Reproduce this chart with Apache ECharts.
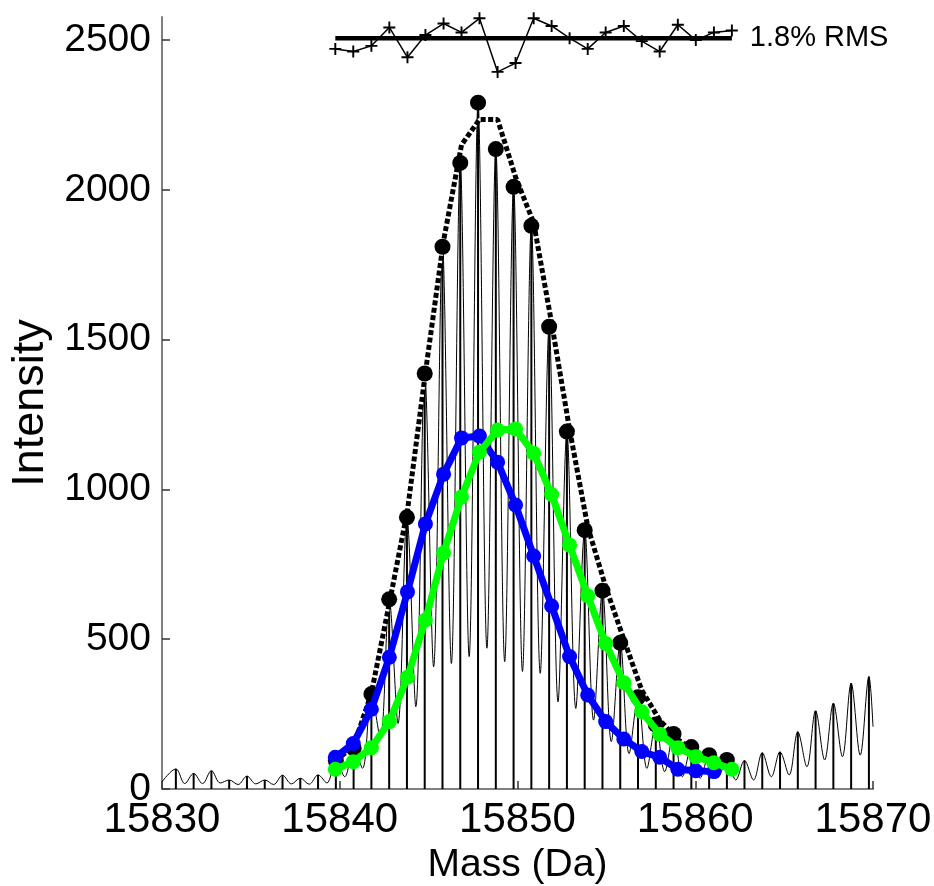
<!DOCTYPE html>
<html><head><meta charset="utf-8">
<script src="https://cdn.jsdelivr.net/npm/echarts@6/dist/echarts.min.js"></script>
<style>html,body{margin:0;padding:0;background:#fff}#c{width:934px;height:886px}</style>
</head><body><div id="c"></div>
<script>
// ---- tick labels ----
const xTicks = [15830, 15840, 15850, 15860, 15870];
const yTicks = [0, 500, 1000, 1500, 2000, 2500];

// ---- isotopic sticks (measured peak tops) ----
const stickMass = [15830.78, 15831.78, 15832.78, 15833.78, 15834.78, 15835.78, 15836.78, 15837.78, 15838.78, 15839.78,
  15840.78, 15841.78, 15842.78, 15843.78, 15844.78, 15845.78, 15846.78, 15847.78, 15848.78, 15849.78,
  15850.78, 15851.78, 15852.78, 15853.78, 15854.78, 15855.78, 15856.78, 15857.78, 15858.78, 15859.78,
  15860.78, 15861.78, 15862.77, 15863.77, 15864.77, 15865.77, 15866.77, 15867.77, 15868.77, 15869.77];
const stickHeight = [67, 52, 61, 30, 43, 30, 46, 36, 47, 95,
  136, 317, 633, 907, 1387, 1810, 2090, 2291, 2136, 2010,
  1880, 1543, 1193, 864, 662, 488, 306, 215, 184, 140,
  113, 97, 95, 121, 124, 191, 261, 286, 353, 375];

// ---- profile troughs between sticks ----
const troughMass = [15831.28, 15832.28, 15833.28, 15834.28, 15835.28, 15836.28, 15837.28, 15838.28, 15839.28, 15840.28,
  15841.28, 15842.28, 15843.28, 15844.28, 15845.28, 15846.28, 15847.28, 15848.28, 15849.28, 15850.28,
  15851.28, 15852.28, 15853.28, 15854.28, 15855.28, 15856.28, 15857.28, 15858.28, 15859.28, 15860.28,
  15861.28, 15862.28, 15863.28, 15864.28, 15865.28, 15866.28, 15867.28, 15868.28, 15869.28];
const troughValue = [18, 18, 20, 15, 17, 15, 17, 16, 20, 41,
  69, 169, 219, 275, 408, 419, 442, 470, 425, 392,
  386, 291, 269, 230, 158, 118, 69, 58, 41, 36,
  39, 30, 30, 41, 47, 74, 97, 108, 113];
const profileStart = [15830, 24];
const profileEnd = [15870, 208];

// ---- black measured dots (on sticks 15839.78 .. 15861.78) ----
const dotFirst = 9, dotLast = 31;

// ---- component / fit positions ----
const compMass = [15839.75, 15840.76, 15841.78, 15842.79, 15843.81, 15844.82, 15845.84, 15846.85, 15847.86, 15848.88,
  15849.89, 15850.91, 15851.92, 15852.93, 15853.95, 15854.96, 15855.98, 15856.99, 15858.00, 15859.02,
  15860.03, 15861.05, 15862.06];
const blueValue = [106, 152, 266, 440, 658, 885, 1051, 1172, 1178, 1091,
  948, 778, 611, 442, 314, 225, 167, 125, 106, 66,
  61, 58];
const greenValue = [66, 91, 138, 225, 373, 564, 788, 975, 1125, 1198,
  1202, 1121, 983, 814, 645, 486, 355, 258, 183, 138,
  108, 88, 66];
const fitValue = [95, 140, 320, 620, 930, 1390, 1830, 2150, 2235, 2235,
  2043, 1890, 1555, 1200, 876, 675, 500, 330, 230, 165,
  125, 100, 85];
// residuals in percent
const residual = [-1.37, -1.71, -0.98, 1.38, -2.45, 0.40, 1.88, 0.74, 2.55, -4.32,
  -3.19, 2.55, 1.57, 0.00, -1.37, 0.74, 1.57, -0.38, -1.71, 1.72,
  -0.24, 0.74, 0.98];
const rmsText = '1.8% RMS';

const FONT = '"Liberation Sans", Arial, sans-serif';
const pair = (xs, ys) => ys.map((v, i) => [xs[i], v]);

const profile = [profileStart];
for (let i = 0; i < stickMass.length; i++) {
  profile.push([stickMass[i], stickHeight[i]]);
  if (i < troughMass.length) profile.push([troughMass[i], troughValue[i]]);
}
profile.push(profileEnd);

const sticks = pair(stickMass, stickHeight);
const dots = sticks.slice(dotFirst, dotLast + 1);

const chart = echarts.init(document.getElementById('c'), null, {renderer: 'canvas'});
const plusPath = 'path://M-1.6,-10 L1.6,-10 L1.6,10 L-1.6,10 Z M-10,-1.6 L10,-1.6 L10,1.6 L-10,1.6 Z';
const plain = v => String(v);

chart.setOption({
  animation: false,
  backgroundColor: '#fff',
  grid: [
    {left: 162, right: 61, top: 17, bottom: 97, containLabel: false, outerBoundsMode: 'none'},
    {left: 162, right: 61, top: 7, height: 78, containLabel: false, outerBoundsMode: 'none'}
  ],
  xAxis: [
    {type: 'value', gridIndex: 0, min: 15830, max: 15870, interval: 10,
      name: 'Mass (Da)', nameLocation: 'middle', nameGap: 50,
      nameTextStyle: {fontFamily: FONT, fontSize: 39, color: '#000'},
      axisLine: {show: true, lineStyle: {color: '#808080', width: 2}},
      axisTick: {show: true, inside: true, length: 8, customValues: xTicks, lineStyle: {color: '#333', width: 1.5}},
      axisLabel: {fontFamily: FONT, fontSize: 42, color: '#000', margin: 10, customValues: xTicks, formatter: plain},
      splitLine: {show: false}},
    {type: 'value', gridIndex: 1, min: 15830, max: 15870, show: false}
  ],
  yAxis: [
    {type: 'value', gridIndex: 0, min: 0, max: 2577, interval: 500,
      name: 'Intensity', nameLocation: 'middle', nameGap: 107,
      nameTextStyle: {fontFamily: FONT, fontSize: 45, color: '#000'},
      axisLine: {show: true, lineStyle: {color: '#808080', width: 2}},
      axisTick: {show: true, inside: true, length: 8, customValues: yTicks, lineStyle: {color: '#333', width: 1.5}},
      axisLabel: {fontFamily: FONT, fontSize: 39, color: '#000', margin: 11, customValues: yTicks, formatter: plain},
      splitLine: {show: false}},
    {type: 'value', gridIndex: 1, min: -6, max: 4, show: false}
  ],
  series: [
    {type: 'line', name: 'profile', data: profile, smooth: 0.35, showSymbol: false,
      lineStyle: {color: '#000', width: 1}, z: 1, silent: true},
    {type: 'custom', name: 'sticks', data: sticks, encode: {x: 0, y: 1}, z: 2, silent: true,
      renderItem: (params, api) => {
        const p0 = api.coord([api.value(0), 0]);
        const p1 = api.coord([api.value(0), api.value(1)]);
        return {type: 'line', shape: {x1: p0[0], y1: p0[1], x2: p1[0], y2: p1[1]},
          style: {stroke: '#000', lineWidth: 2}};
      }},
    {type: 'line', name: 'fitUnder', data: pair(compMass, fitValue), showSymbol: false,
      lineStyle: {color: '#fff', width: 3}, z: 3, silent: true},
    {type: 'line', name: 'fit', data: pair(compMass, fitValue), showSymbol: false,
      lineStyle: {color: '#000', width: 5, type: [5, 2.5]}, z: 4, silent: true},
    {type: 'scatter', name: 'measured', data: dots, symbol: 'circle', symbolSize: 16,
      itemStyle: {color: '#000', opacity: 1}, z: 5, silent: true},
    {type: 'line', name: 'blue', data: pair(compMass, blueValue), symbol: 'circle', symbolSize: 15,
      showSymbol: true, showAllSymbol: true,
      lineStyle: {color: '#0000ff', width: 7}, itemStyle: {color: '#0000ff', opacity: 1}, z: 6, silent: true},
    {type: 'line', name: 'green', data: pair(compMass, greenValue), symbol: 'circle', symbolSize: 15,
      showSymbol: true, showAllSymbol: true,
      lineStyle: {color: '#00ff00', width: 7}, itemStyle: {color: '#00ff00', opacity: 1}, z: 7, silent: true},
    {type: 'line', name: 'rmsBase', xAxisIndex: 1, yAxisIndex: 1,
      data: [[compMass[0], 0], [compMass[compMass.length - 1], 0]], showSymbol: false,
      lineStyle: {color: '#000', width: 4.5}, z: 8, silent: true,
      endLabel: {show: true, formatter: rmsText, distance: 18, fontFamily: FONT, fontSize: 29, color: '#000'}},
    {type: 'line', name: 'residual', xAxisIndex: 1, yAxisIndex: 1, data: pair(compMass, residual),
      symbol: plusPath, symbolSize: 12, showSymbol: true, showAllSymbol: true,
      lineStyle: {color: '#000', width: 1.5}, itemStyle: {color: '#000', opacity: 1}, z: 9, silent: true}
  ]
});
</script></body></html>
